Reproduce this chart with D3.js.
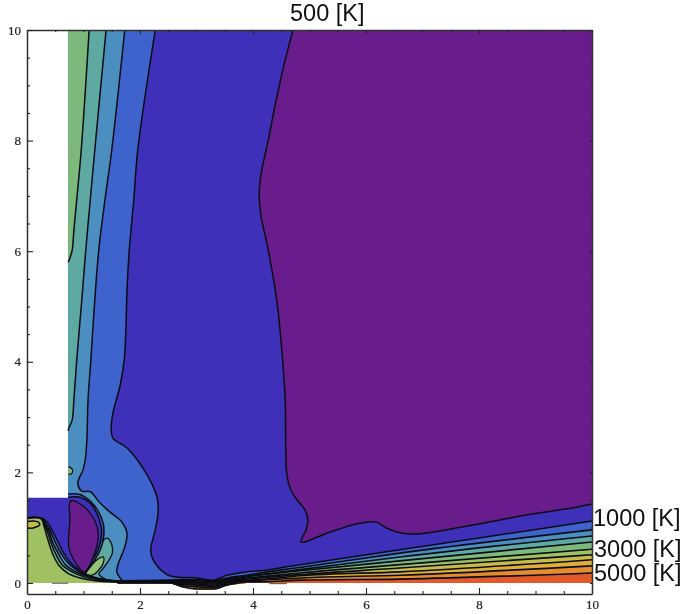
<!DOCTYPE html>
<html><head><meta charset="utf-8">
<script src="https://cdn.jsdelivr.net/npm/d3@7/dist/d3.min.js"></script>
<style>html,body{margin:0;background:#fff}svg{display:block;filter:blur(0.45px)}</style>
</head><body><svg id="c" width="682" height="614"></svg>
<script>
// contour lines, in data units [x, y]
const purpleLine=[[4.71,10],[4.57,9.46],[4.41,8.73],[4.27,8.01],[4.14,7.38],[4.11,7.02],[4.14,6.65],[4.27,6.02],[4.42,5.12],[4.51,4.21],[4.57,3.31],[4.58,2.41],[4.60,1.95],[4.67,1.68],[4.78,1.50],[4.92,1.32],[4.97,1.14],[4.94,0.96],[4.85,0.74],[5.31,0.90],[5.63,1.01],[5.89,1.08],[6.19,1.10],[6.37,0.99],[6.65,0.90],[6.96,0.89],[7.79,1.03],[8.37,1.14],[8.96,1.25],[9.56,1.34],[10,1.43]];
const indigoLine=[[2.27,10],[1.96,7.83],[1.89,6.93],[1.81,6.02],[1.77,5.30],[1.75,4.57],[1.72,4.03],[1.65,3.58],[1.52,3.07],[1.49,2.77],[1.52,2.62],[1.77,2.44],[2.05,2.08],[2.30,1.56],[2.32,1.27],[2.27,0.96],[2.19,0.60],[2.23,0.42],[2.50,0.14],[3.01,0.09],[3.29,0.05],[3.54,0.14],[3.89,0.20],[4.12,0.22],[4.83,0.33],[6.60,0.60],[10,1.12]];
const steelLine=[[1.73,10],[1.50,7.83],[1.38,6.93],[1.27,6.02],[1.20,5.12],[1.13,4.03],[1.08,3.31],[1.06,2.59],[1.03,2.22],[0.99,2.04],[0.90,1.81],[0.97,1.66],[1.12,1.65],[1.29,1.45],[1.47,1.28],[1.68,1.10],[1.77,0.90],[1.73,0.65],[1.61,0.33],[1.59,0.20],[1.68,0.05]];
const tealLine=[[1.40,10],[1.20,7.83],[1.12,6.93],[1.04,6.02],[0.97,5.12],[0.88,4.03],[0.83,3.31],[0.80,2.95],[0.74,2.80],[0.73,2.75]];
const greenLine=[[1.10,10],[0.96,7.83],[0.88,6.93],[0.83,6.38],[0.80,6.02],[0.76,5.88],[0.73,5.80]];
const blob=[[0.73,2.10],[0.78,2.08],[0.81,2.03],[0.78,1.97],[0.73,1.97]];
const tealLobe=[[1.42,0.81],[1.50,0.69],[1.51,0.54],[1.43,0.38],[1.33,0.24],[1.27,0.16],[1.35,0.09],[1.43,0.04],[1.12,0.05],[1.03,0.16],[1.12,0.33],[1.24,0.54],[1.31,0.72]];
const greenLobe=[[1.35,0.47],[1.35,0.36],[1.26,0.22],[1.15,0.14],[1.04,0.16],[1.12,0.29],[1.24,0.42]];
const blueArc=[[0.73,1.61],[0.94,1.60],[1.12,1.48],[1.26,1.30],[1.35,1.07],[1.36,0.87],[1.31,0.63],[1.19,0.40],[1.03,0.18]];
const indigoArc=[[0.73,1.55],[0.94,1.55],[1.12,1.44],[1.24,1.25],[1.31,1.03],[1.32,0.87],[1.26,0.61],[1.15,0.40],[1.03,0.19]];
const purpleCore=[[0.77,1.48],[0.97,1.41],[1.17,1.18],[1.26,0.90],[1.20,0.54],[1.01,0.20],[0.85,0.38],[0.74,0.65],[0.76,1.14]];
const hill1=[[0,1.18],[0.23,1.18],[0.34,1.12],[0.44,0.96],[0.55,0.74],[0.65,0.54],[0.76,0.38],[0.90,0.25],[1.01,0.17],[1.24,0.09],[1.68,0.03]];
const hill2=[[0,1.18],[0.23,1.175],[0.32,1.10],[0.41,0.94],[0.50,0.74],[0.60,0.54],[0.73,0.36],[0.87,0.24],[1.01,0.15],[1.24,0.08],[1.68,0.02]];
const hill3=[[0,1.175],[0.23,1.17],[0.31,1.08],[0.39,0.92],[0.46,0.72],[0.55,0.54],[0.67,0.34],[0.83,0.22],[1.01,0.14],[1.26,0.07],[1.68,0.02]];
const hill4=[[0,1.17],[0.23,1.165],[0.30,1.07],[0.37,0.90],[0.43,0.71],[0.51,0.52],[0.62,0.33],[0.80,0.20],[1.01,0.11],[1.29,0.05],[1.68,0.015]];
const hill5=[[0,1.165],[0.25,1.16],[0.30,1.03],[0.35,0.85],[0.41,0.65],[0.47,0.49],[0.57,0.31],[0.73,0.17],[0.94,0.09],[1.20,0.04],[1.68,0.01]];
const hillTop=[[0,1.11],[0.11,1.12],[0.20,1.10],[0.225,1.05],[0.18,1.02],[0.09,0.99],[0,0.99]];
// lower fan: shared x stations, one y list per contour
const fanX=[1.6,2.53,2.75,3.01,3.29,3.54,3.89,4.12,4.83,6.60,10];
const fanFloor=[0,0,-0.08,-0.125,-0.125,-0.04,0,0,0,0,0];
const fanLevels=[
 [.04,.05,.06,.06,.04,.09,.14,.18,.28,.54,.96],
 [.03,.04,.05,.04,.02,.07,.13,.15,.24,.47,.85],
 [.02,.03,.03,.02,0,.05,.11,.14,.22,.40,.74],
 [.02,.02,.01,0,-.02,.03,.09,.11,.18,.33,.61],
 [.015,.015,-.01,-.02,-.04,.02,.07,.09,.15,.27,.51],
 [.01,.01,-.03,-.04,-.06,0,.05,.06,.13,.20,.42],
 [.007,.007,-.05,-.07,-.08,-.02,.04,.05,.09,.14,.31],
 [0,0,-.07,-.11,-.11,-.04,.02,.02,.05,.07,.18]
];
const dashes=[[[0.44,-0.005],[0.73,-0.005]],[[4.29,-0.012],[4.6,-0.012]]];
const colors={purple:"#691d8c",indigo:"#3f30b9",blue:"#3e63cd",steel:"#4b8ec0",teal:"#5fa9a3",green:"#7eb97c",lime:"#a0c162",yellow:"#c6bc47",gold:"#dfae39",orange:"#e68c2e",red:"#e25a2b"};
const fanColors=[colors.steel,colors.teal,colors.green,colors.lime,colors.yellow,colors.gold,colors.orange,colors.red];
const cutX=0.73, cutY=1.54;
const majorTicks=[0,2,4,6,8,10];
const allTicks=d3.range(0,10.5,0.5);
const labels=[["500 [K]",290,21],["1000 [K]",593,526],["3000 [K]",594,557],["5000 [K]",594,581]];

const x=d3.scaleLinear().domain([0,10]).range([27,592]);
const y=d3.scaleLinear().domain([-0.2,10]).range([594,30]);
const svg=d3.select("#c");
svg.append("defs").append("clipPath").attr("id","pc").append("rect")
  .attr("x",x(0)).attr("y",y(10)).attr("width",x(10)-x(0)).attr("height",y(-0.2)-y(10));
const g=svg.append("g").attr("clip-path","url(#pc)");
const lw=1.5;
const curve=d3.line().x(d=>x(d[0])).y(d=>y(d[1])).curve(d3.curveCatmullRom.alpha(0.5));
const curveC=d3.line().x(d=>x(d[0])).y(d=>y(d[1])).curve(d3.curveCatmullRomClosed.alpha(0.5));
const mono=d3.line().x(d=>x(d[0])).y(d=>y(d[1])).curve(d3.curveMonotoneX);
const straight=d=>d.map(p=>"L"+x(p[0])+","+y(p[1])).join("");
function poly(pts,fill){g.append("path").attr("d",straight(pts).replace(/^L/,"M")+"Z").attr("fill",fill);}
function region(line,closure,fill,gen=curve,w=lw){
  g.append("path").attr("d",gen(line)+straight(closure)+"Z").attr("fill",fill);
  g.append("path").attr("d",gen(line)).attr("fill","none").attr("stroke","#0c0c14").attr("stroke-width",w);
}
function loop(pts,fill){g.append("path").attr("d",curveC(pts)).attr("fill",fill).attr("stroke","#0c0c14").attr("stroke-width",lw-0.2);}

// base
poly([[cutX,10],[10,10],[10,0],[cutX,0]],colors.blue);
region(indigoLine,[[10,10]],colors.indigo);
region(purpleLine,[[10,10]],colors.purple);
// fan (painted from low to high)
const floorBack=fanX.map((v,i)=>[v,fanFloor[i]]).reverse();
fanLevels.forEach((lv,i)=>region(fanX.map((v,j)=>[v,lv[j]]),floorBack,fanColors[i],mono,1.65));
// upper-left strips and the region around the core
region(steelLine,[[cutX,0],[cutX,10]],colors.steel);
region(tealLine,[[cutX,10]],colors.teal);
region(greenLine,[[cutX,10]],colors.green);
g.append("path").attr("d",curve(blob)).attr("fill",colors.green).attr("stroke","#0c0c14").attr("stroke-width",1.2);
loop(tealLobe,colors.teal);
loop(greenLobe,"#93c274");
region(blueArc,[[0.95,0.7],[cutX,0.7]],colors.blue);
region(indigoArc,[[0.6,0.19],[0,0.19],[0,cutY],[cutX,cutY]],colors.indigo);
loop(purpleCore,colors.purple);
// hill
[[hill1,colors.blue],[hill2,colors.steel],[hill3,colors.teal],[hill4,colors.green],[hill5,colors.lime]]
 .forEach(([h,c])=>region(h,[[1.68,0],[0,0]],c));
region(hillTop,[],colors.yellow);
g.selectAll("line.d").data(dashes).join("line").attr("x1",d=>x(d[0][0])).attr("y1",d=>y(d[0][1])).attr("x2",d=>x(d[1][0])).attr("y2",d=>y(d[1][1])).attr("stroke","#666").attr("stroke-width",1.2);

// frame + axes
const fmt=v=>majorTicks.includes(v)?String(v):"";
function styleAxis(sel,dirX,dirY,maj,min){
  sel.select(".domain").attr("stroke","#333").attr("stroke-width",1.5);
  sel.selectAll(".tick line").attr("stroke","#222").attr("stroke-width",1.1)
    .attr("x2",d=>dirX*(majorTicks.includes(d)?maj:min)).attr("y2",d=>dirY*(majorTicks.includes(d)?maj:min));
  sel.selectAll("text").attr("font-family","'Liberation Serif',serif").attr("font-size",13).attr("fill","#222").attr("stroke","#222").attr("stroke-width",0.2);
}
const ab=svg.append("g").attr("transform",`translate(0,${y(-0.2)})`).call(d3.axisBottom(x).tickValues(allTicks).tickFormat(fmt).tickSizeOuter(0).tickPadding(0));
styleAxis(ab,0,-1,6,3);
const at=svg.append("g").attr("transform",`translate(0,${y(10)})`).call(d3.axisTop(x).tickValues(allTicks).tickFormat("").tickSizeOuter(0));
styleAxis(at,0,1,4,2);
const al=svg.append("g").attr("transform",`translate(${x(0)},0)`).call(d3.axisLeft(y).tickValues(allTicks).tickFormat(fmt).tickSizeOuter(0).tickPadding(0));
styleAxis(al,1,0,6,3);
const ar=svg.append("g").attr("transform",`translate(${x(10)},0)`).call(d3.axisRight(y).tickValues(allTicks).tickFormat("").tickSizeOuter(0));
styleAxis(ar,-1,0,2,1);
svg.selectAll("text.lab").data(labels).join("text").attr("class","lab")
  .attr("x",d=>d[1]).attr("y",d=>d[2]).text(d=>d[0])
  .attr("font-family","'Liberation Sans',Arial,sans-serif").attr("font-size",23.5).attr("fill","#111");
</script></body></html>
